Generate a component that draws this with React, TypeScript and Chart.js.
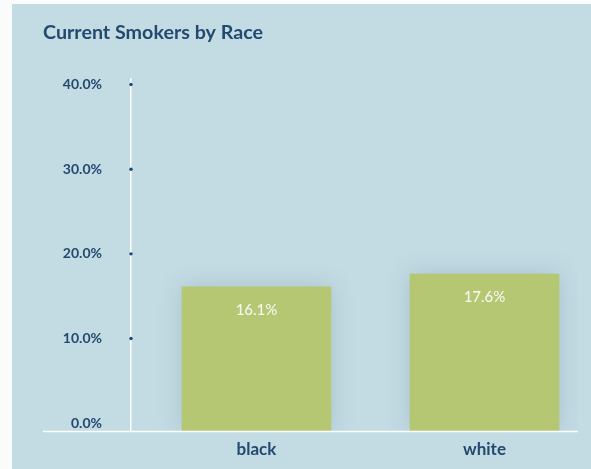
import React, { useEffect, useRef } from "react";
import { Chart, registerables } from "chart.js";

Chart.register(...registerables);

const categories: string[] = ["black", "white"];
const smokerPct: number[] = [16.1, 17.6];
const yTickValues: number[] = [0, 10, 20, 30, 40];

const FONT = "Lato, 'Open Sans', sans-serif";
const NAVY = "#23496f";
const BAR = "#b5c773";
const PANEL = "#c3dbe3";

export default function App() {
  const ref = useRef<HTMLCanvasElement | null>(null);

  useEffect(() => {
    if (!ref.current) return;

    const decor = {
      id: "decor",
      beforeDatasetsDraw(chart: any) {
        const ctx = chart.ctx;
        ctx.save();
        ctx.shadowColor = "rgba(90,130,150,0.28)";
        ctx.shadowBlur = 22;
      },
      afterDatasetsDraw(chart: any) {
        const ctx = chart.ctx;
        ctx.restore();
        const meta = chart.getDatasetMeta(0);
        ctx.save();
        ctx.fillStyle = "#f6f7f0";
        ctx.font = `500 15px ${FONT}`;
        ctx.textAlign = "center";
        ctx.textBaseline = "middle";
        meta.data.forEach((el: any, i: number) => {
          ctx.fillText(smokerPct[i].toFixed(1) + "%", el.x, el.y + 23);
        });
        ctx.restore();
      },
      afterDraw(chart: any) {
        const ctx = chart.ctx;
        const y = chart.scales.y;
        const area = chart.chartArea;
        ctx.save();
        ctx.strokeStyle = "#ffffff";
        ctx.lineWidth = 1.5;
        ctx.beginPath();
        ctx.moveTo(43, area.bottom);
        ctx.lineTo(area.right, area.bottom);
        ctx.stroke();
        ctx.fillStyle = "#1d4a74";
        yTickValues.forEach((v) => {
          if (v <= 0) return;
          ctx.beginPath();
          ctx.arc(area.left, y.getPixelForValue(v), 1.7, 0, Math.PI * 2);
          ctx.fill();
        });
        ctx.restore();
      },
    };

    const chart = new Chart(ref.current, {
      type: "bar",
      data: {
        datasets: [
          {
            data: categories.map((c, i) => ({ x: i, y: smokerPct[i] })),
            backgroundColor: BAR,
            borderWidth: 0,
            barThickness: 149,
            base: -1,
          } as any,
        ],
      },
      options: {
        animation: false,
        responsive: false,
        layout: { padding: { left: 43, right: 13, top: 0, bottom: 1 } },
        plugins: {
          legend: { display: false },
          tooltip: { enabled: false },
          title: {
            display: true,
            text: "Current Smokers by Race",
            align: "start",
            color: NAVY,
            font: { family: FONT, size: 19.7, weight: "bold" },
            padding: { top: 20.5, bottom: 34.5 },
          },
        },
        scales: {
          x: {
            type: "linear",
            offset: false,
            min: -0.5504,
            max: 1.41,
            afterBuildTicks(scale: any) {
              scale.ticks = categories.map((_, i) => ({ value: i }));
            },
            afterFit(scale: any) {
              scale.height = 31;
            },
            grid: { display: false, offset: false, drawTicks: false },
            border: { display: false },
            ticks: {
              padding: 8,
              color: NAVY,
              font: { family: FONT, size: 17, weight: "bold" },
              callback: (v: any) => categories[v as number] ?? "",
            },
          },
          y: {
            min: -1,
            max: 40.7,
            afterBuildTicks(scale: any) {
              scale.ticks = yTickValues.map((v) => ({ value: v }));
            },
            afterFit(scale: any) {
              scale.width = 88;
            },
            grid: { display: false, drawTicks: false },
            border: { display: true, color: "#ffffff", width: 1.5 },
            ticks: {
              padding: 29,
              color: NAVY,
              font: { family: FONT, size: 14, weight: "bold" },
              callback: (v: any) => Number(v).toFixed(1) + "%",
            },
          },
        },
      },
      plugins: [decor],
    } as any);

    return () => chart.destroy();
  }, []);

  return (
    <div
      style={{
        position: "absolute",
        left: 0,
        top: 0,
        width: 591,
        height: 469,
        background: "#fafbfb",
        overflow: "hidden",
      }}
    >
      <div
        style={{
          position: "absolute",
          left: 12,
          top: 4,
          right: 0,
          bottom: 0,
          background: PANEL,
        }}
      />
      <canvas
        ref={ref}
        width={591}
        height={469}
        style={{ position: "absolute", left: 0, top: 0, width: 591, height: 469 }}
      />
    </div>
  );
}
